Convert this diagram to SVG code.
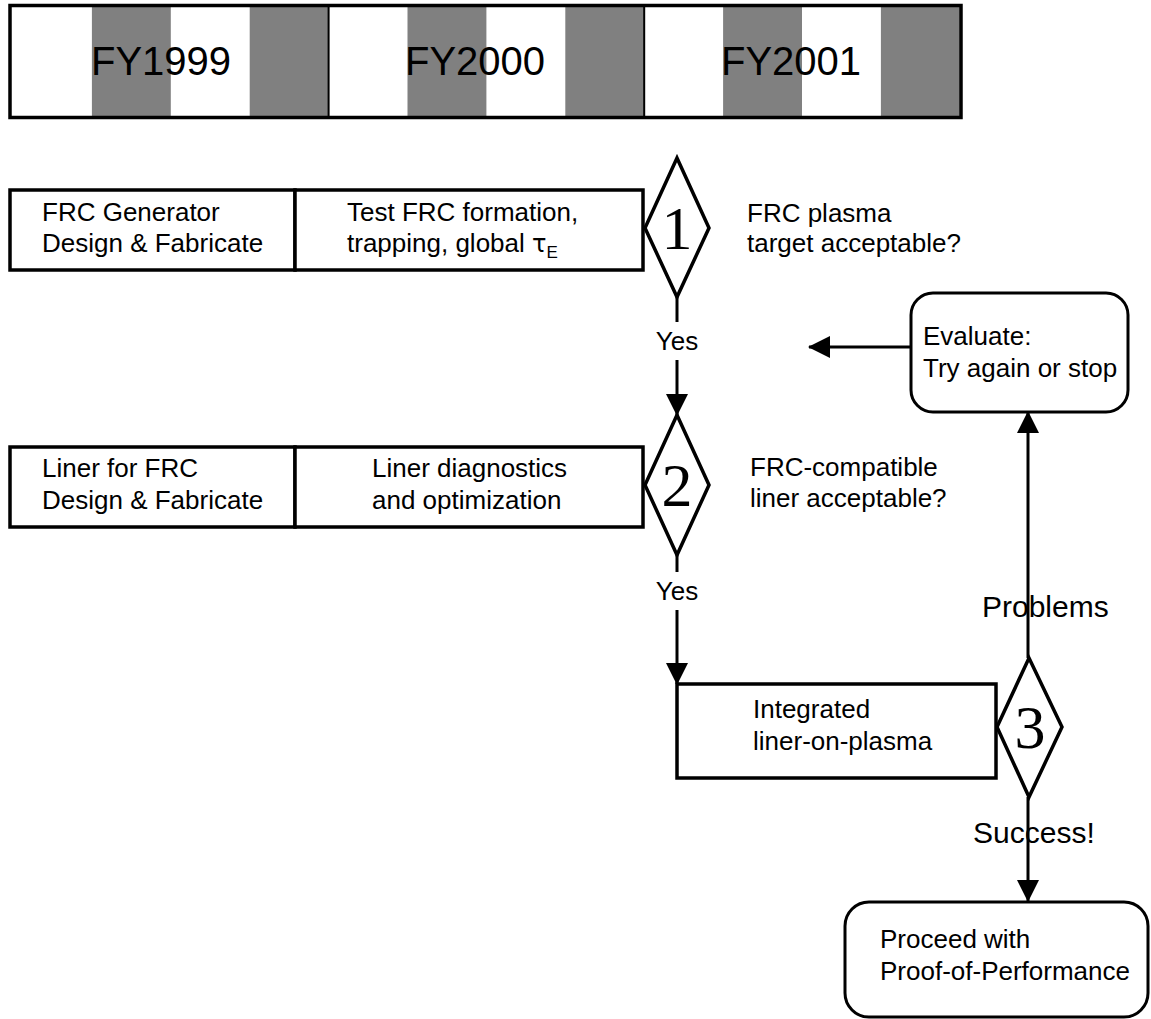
<svg xmlns="http://www.w3.org/2000/svg" width="1151" height="1019" viewBox="0 0 1151 1019">
<style>
  .t { font-family: "Liberation Sans", Arial, sans-serif; font-size: 26px; fill: #000; }
  .big { font-family: "Liberation Sans", Arial, sans-serif; font-size: 30px; fill: #000; }
  .fy { font-family: "Liberation Sans", Arial, sans-serif; font-size: 40px; fill: #000; }
  .num { font-family: "Liberation Serif", "Times New Roman", serif; font-size: 62px; fill: #000; text-anchor: middle; }
  .box { fill: #fff; stroke: #000; stroke-width: 3.5; }
  .dia { fill: #fff; stroke: #000; stroke-width: 3.5; stroke-linejoin: miter; }
  .rbox { fill: #fff; stroke: #000; stroke-width: 3; }
  .conn { stroke: #000; stroke-width: 3; fill: none; }
  .gray { fill: #808080; }
</style>
<defs>
  <marker id="arr" markerUnits="userSpaceOnUse" markerWidth="22" markerHeight="22" refX="21" refY="11" orient="auto">
    <path d="M0,0 L22,11 L0,22 z" fill="#000"/>
  </marker>
</defs>
<rect width="1151" height="1019" fill="#fff"/>

<g id="timeline">
  <rect x="10" y="5.5" width="951" height="112" fill="#fff"/>
  <rect class="gray" x="91.9" y="7" width="78.9" height="109"/>
  <rect class="gray" x="249.7" y="7" width="78.9" height="109"/>
  <rect class="gray" x="407.5" y="7" width="78.9" height="109"/>
  <rect class="gray" x="565.3" y="7" width="78.9" height="109"/>
  <rect class="gray" x="723.1" y="7" width="78.9" height="109"/>
  <rect class="gray" x="880.9" y="7" width="78.9" height="109"/>
  <line x1="328.6" y1="6" x2="328.6" y2="117" stroke="#000" stroke-width="2"/>
  <line x1="644.2" y1="6" x2="644.2" y2="117" stroke="#000" stroke-width="2"/>
  <rect x="10" y="5.5" width="951" height="112" fill="none" stroke="#000" stroke-width="3.5"/>
  <text class="fy" x="91" y="75">FY1999</text>
  <text class="fy" x="405" y="75">FY2000</text>
  <text class="fy" x="721" y="75">FY2001</text>
</g>

<g id="frc-generator">
  <rect class="box" x="10" y="190" width="285" height="80"/>
  <text class="t" x="42" y="221">FRC Generator</text>
  <text class="t" x="42" y="252">Design &amp; Fabricate</text>
</g>
<g id="test-frc">
  <rect class="box" x="295" y="190" width="348" height="80"/>
  <text class="t" x="347" y="221">Test FRC formation,</text>
  <text class="t" x="347" y="252">trapping, global <tspan font-family="DejaVu Sans, sans-serif" font-size="24">τ</tspan><tspan font-size="17" dy="6">E</tspan></text>
</g>
<g id="decision1">
  <polygon class="dia" points="677,158 709,228 677,297 645,228"/>
  <text class="num" x="677" y="249">1</text>
</g>
<g id="q1">
  <text class="t" x="747" y="222">FRC plasma</text>
  <text class="t" x="747" y="252">target acceptable?</text>
</g>

<g id="liner">
  <rect class="box" x="10" y="447" width="285" height="80"/>
  <text class="t" x="42" y="477">Liner for FRC</text>
  <text class="t" x="42" y="509">Design &amp; Fabricate</text>
</g>
<g id="liner-diag">
  <rect class="box" x="295" y="447" width="348" height="80"/>
  <text class="t" x="372" y="477">Liner diagnostics</text>
  <text class="t" x="372" y="509">and optimization</text>
</g>
<g id="decision2">
  <polygon class="dia" points="677,415 709,485 677,555 645,485"/>
  <text class="num" x="677" y="506">2</text>
</g>
<g id="q2">
  <text class="t" x="750" y="476">FRC-compatible</text>
  <text class="t" x="750" y="507">liner acceptable?</text>
</g>

<g id="evaluate">
  <rect class="rbox" x="911" y="293" width="217" height="119" rx="22" ry="22"/>
  <text class="t" x="923" y="345">Evaluate:</text>
  <text class="t" x="923" y="377">Try again or stop</text>
</g>

<g id="integrated">
  <rect class="box" x="677" y="684" width="319" height="94"/>
  <text class="t" x="753" y="718">Integrated</text>
  <text class="t" x="753" y="750">liner-on-plasma</text>
</g>
<g id="decision3">
  <polygon class="dia" points="1029,658 1062,727 1029,797 997,727"/>
  <text class="num" x="1030" y="748">3</text>
</g>

<g id="proceed">
  <rect class="rbox" x="845" y="902" width="303" height="115" rx="24" ry="24"/>
  <text class="t" x="880" y="948">Proceed with</text>
  <text class="t" x="880" y="980">Proof-of-Performance</text>
</g>

<g id="connectors">
  <line class="conn" x1="677" y1="297" x2="677" y2="322"/>
  <line class="conn" x1="677" y1="360" x2="677" y2="415" marker-end="url(#arr)"/>
  <line class="conn" x1="677" y1="555" x2="677" y2="572"/>
  <line class="conn" x1="677" y1="610" x2="677" y2="684" marker-end="url(#arr)"/>
  <line class="conn" x1="911" y1="347" x2="809" y2="347" marker-end="url(#arr)"/>
  <line class="conn" x1="1028" y1="658" x2="1028" y2="412" marker-end="url(#arr)"/>
  <line class="conn" x1="1028" y1="797" x2="1028" y2="901" marker-end="url(#arr)"/>
  <text class="t" x="677" y="350" text-anchor="middle">Yes</text>
  <text class="t" x="677" y="600" text-anchor="middle">Yes</text>
  <text class="big" x="982" y="617">Problems</text>
  <text class="big" x="973" y="843">Success!</text>
</g>
</svg>
